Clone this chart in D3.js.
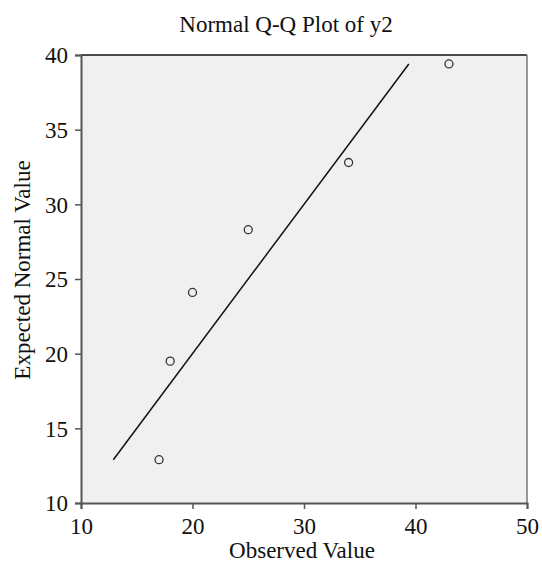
<!DOCTYPE html>
<html><head><meta charset="utf-8">
<script src="https://cdn.jsdelivr.net/npm/d3@7"></script>
<style>body{margin:0;background:#fff;} text{font-family:"Liberation Serif","Times New Roman",serif;fill:#111;}</style>
</head><body>
<svg id="c" width="542" height="566"></svg>
<script>
const observed = [17, 18, 20, 25, 34, 43];
const expected = [12.9, 19.5, 24.1, 28.3, 32.8, 39.4];
const xTicks = [10, 20, 30, 40, 50];
const yTicks = [10, 15, 20, 25, 30, 35, 40];
const refLine = [12.9, 39.4];

const svg = d3.select("#c");
const L = 81, R = 527, T = 55, B = 503;
const FS = 23;
const x = d3.scaleLinear().domain([10, 50]).range([L, R]);
const y = d3.scaleLinear().domain([10, 40]).range([B, T]);

svg.append("rect").attr("x", L).attr("y", T).attr("width", R - L).attr("height", B - T)
  .attr("fill", "#f0f0f0");
svg.append("line").attr("x1", L).attr("x2", R).attr("y1", T).attr("y2", T).attr("stroke", "#111").attr("stroke-width", 1.5);
svg.append("line").attr("x1", R).attr("x2", R).attr("y1", T).attr("y2", B).attr("stroke", "#777").attr("stroke-width", 1.5);

const xAxis = svg.append("g").attr("transform", `translate(0,${B})`)
  .call(d3.axisBottom(x).tickValues(xTicks).tickSize(6).tickPadding(9));
const yAxis = svg.append("g").attr("transform", `translate(${L},0)`)
  .call(d3.axisLeft(y).tickValues(yTicks).tickSize(6).tickPadding(7));
[xAxis, yAxis].forEach(a => {
  a.select(".domain").attr("stroke", "#555").attr("stroke-width", 2);
  a.selectAll(".tick line").attr("stroke", "#555").attr("stroke-width", 1.5);
  a.selectAll(".tick text").attr("font-size", FS).attr("fill", "#111")
   .attr("font-family", '"Liberation Serif","Times New Roman",serif');
});
yAxis.selectAll(".tick text").attr("dy", "0.34em");

svg.append("line")
  .attr("x1", x(refLine[0])).attr("y1", y(refLine[0]))
  .attr("x2", x(refLine[1])).attr("y2", y(refLine[1]))
  .attr("stroke", "#111").attr("stroke-width", 1.5);

svg.selectAll("circle.pt").data(observed).enter().append("circle")
  .attr("class", "pt")
  .attr("cx", d => x(d)).attr("cy", (d, i) => y(expected[i]))
  .attr("r", 4).attr("fill", "none").attr("stroke", "#333").attr("stroke-width", 1.3);

svg.append("text").attr("x", 286).attr("y", 32).attr("text-anchor", "middle")
  .attr("font-size", FS).text("Normal Q-Q Plot of y2");
svg.append("text").attr("x", 302).attr("y", 558).attr("text-anchor", "middle")
  .attr("font-size", FS).text("Observed Value");
svg.append("text").attr("transform", `translate(30,270) rotate(-90)`)
  .attr("text-anchor", "middle").attr("font-size", FS).text("Expected Normal Value");
</script>
</body></html>
